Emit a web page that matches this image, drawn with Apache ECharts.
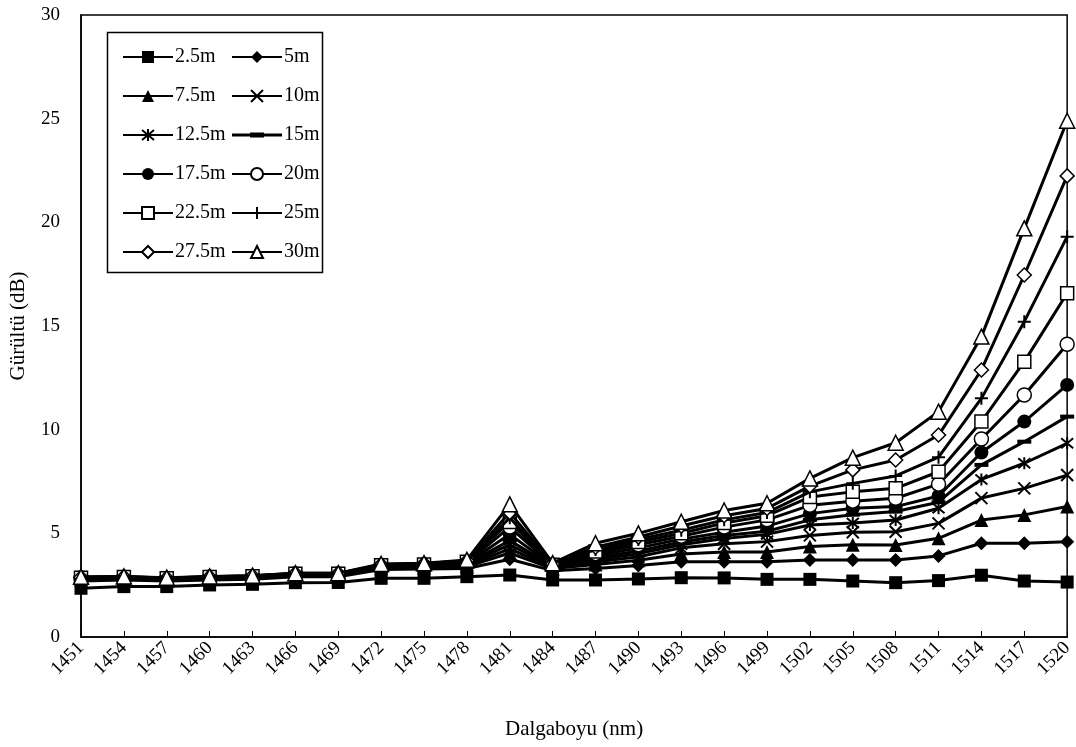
<!DOCTYPE html>
<html>
<head>
<meta charset="utf-8">
<script src="https://cdn.jsdelivr.net/npm/echarts@6/dist/echarts.min.js"></script>
<style>html,body{margin:0;padding:0;background:#fff;}#c{width:1076px;height:747px;}</style>
</head>
<body>
<div id="c"></div>
<script>
const categories = ['1451','1454','1457','1460','1463','1466','1469','1472','1475','1478','1481','1484','1487','1490','1493','1496','1499','1502','1505','1508','1511','1514','1517','1520'];
const yTicks = [0, 5, 10, 15, 20, 25, 30];

const s2_5  = [2.35,2.43,2.43,2.51,2.54,2.62,2.63,2.83,2.83,2.91,2.99,2.75,2.75,2.80,2.86,2.85,2.78,2.78,2.70,2.62,2.72,2.98,2.70,2.65];
const s5    = [2.70,2.75,2.70,2.75,2.78,2.90,2.90,3.25,3.28,3.30,3.75,3.20,3.30,3.45,3.63,3.63,3.63,3.71,3.71,3.71,3.91,4.52,4.52,4.60];
const s7_5  = [2.75,2.80,2.74,2.80,2.84,2.96,2.96,3.32,3.35,3.40,4.05,3.30,3.50,3.70,4.00,4.10,4.10,4.36,4.45,4.44,4.76,5.64,5.89,6.29];
const s10   = [2.78,2.82,2.76,2.82,2.86,2.98,2.98,3.36,3.38,3.45,4.25,3.35,3.62,3.87,4.30,4.50,4.60,4.90,5.05,5.08,5.48,6.70,7.17,7.81];
const s12_5 = [2.80,2.84,2.78,2.84,2.88,3.00,3.00,3.38,3.41,3.50,4.45,3.38,3.72,4.02,4.45,4.75,4.95,5.40,5.50,5.64,6.21,7.60,8.38,9.34];
const s15   = [2.82,2.86,2.80,2.86,2.90,3.02,3.02,3.40,3.44,3.54,4.65,3.41,3.82,4.15,4.58,4.90,5.10,5.65,5.90,6.05,6.50,8.30,9.42,10.63];
const s17_5 = [2.83,2.87,2.81,2.87,2.91,3.03,3.03,3.42,3.46,3.57,4.95,3.44,3.92,4.30,4.72,5.05,5.35,5.95,6.21,6.29,6.80,8.90,10.39,12.16];
const s20   = [2.85,2.88,2.82,2.88,2.92,3.04,3.04,3.44,3.48,3.60,5.30,3.46,4.02,4.45,4.86,5.30,5.65,6.35,6.55,6.69,7.37,9.55,11.67,14.12];
const s22_5 = [2.86,2.89,2.83,2.89,2.93,3.05,3.05,3.46,3.50,3.63,5.55,3.48,4.12,4.58,5.00,5.50,5.85,6.75,7.00,7.17,7.97,10.39,13.28,16.58];
const s25   = [2.87,2.90,2.84,2.90,2.94,3.06,3.06,3.48,3.52,3.65,5.75,3.50,4.22,4.70,5.15,5.65,6.00,7.00,7.41,7.77,8.67,11.51,15.21,19.31];
const s27_5 = [2.88,2.91,2.85,2.91,2.95,3.07,3.07,3.50,3.54,3.68,6.00,3.52,4.33,4.82,5.35,5.85,6.20,7.28,8.06,8.54,9.74,12.88,17.46,22.24];
const s30   = [2.90,2.92,2.86,2.92,2.96,3.08,3.08,3.52,3.56,3.72,6.40,3.56,4.52,5.00,5.56,6.10,6.45,7.65,8.65,9.37,10.87,14.49,19.71,24.90];

const seriesNames = ['2.5m','5m','7.5m','10m','12.5m','15m','17.5m','20m','22.5m','25m','27.5m','30m'];
const legendCol1 = ['2.5m','7.5m','12.5m','17.5m','22.5m','27.5m'];
const legendCol2 = ['5m','10m','15m','20m','25m','30m'];
const seriesData = [s2_5,s5,s7_5,s10,s12_5,s15,s17_5,s20,s22_5,s25,s27_5,s30];

const FONT = '"Liberation Serif", "Times New Roman", serif';
const X_PATH = 'path://M0,0L10,10M10,0L0,10';
const AST_PATH = 'path://M0,0L10,10M10,0L0,10M5,-1L5,11';
const PLUS_PATH = 'path://M5,0L5,10M0,5L10,5';
const DASH_LEGEND = 'path://M0,0L0.01,0M0,5.6L18,5.6L18,4.6L32,4.6L32,9.4L18,9.4L18,8.4L0,8.4ZM32,5.6L50,5.6L50,8.4L32,8.4ZM0,14L0.01,14';

const markerStyles = [
  {symbol:'rect', size:13, fill:'#000'},
  {symbol:'diamond', size:14, fill:'#000'},
  {symbol:'triangle', size:14, fill:'#000'},
  {symbol:X_PATH, size:12, fill:'#000', stroke:true},
  {symbol:AST_PATH, size:12, fill:'#000', stroke:true},
  {symbol:'rect', size:[14,4], fill:'#000'},
  {symbol:'circle', size:14, fill:'#000'},
  {symbol:'circle', size:14, fill:'#fff', border:true},
  {symbol:'rect', size:13, fill:'#fff', border:true},
  {symbol:PLUS_PATH, size:13, fill:'#000', stroke:true},
  {symbol:'diamond', size:14, fill:'#fff', border:true},
  {symbol:'triangle', size:15, fill:'#fff', border:true}
];

const series = seriesNames.map((name, i) => {
  const m = markerStyles[i];
  const itemStyle = {color: m.fill, opacity: 1};
  if (m.border) { itemStyle.borderColor = '#000'; itemStyle.borderWidth = 1.5; }
  if (m.stroke) { itemStyle.borderColor = '#000'; itemStyle.borderWidth = 2; }
  return {
    name: name,
    type: 'line',
    data: seriesData[i],
    symbol: m.symbol,
    symbolSize: m.size,
    showAllSymbol: true,
    lineStyle: {color: '#000', width: 3},
    itemStyle: itemStyle,
    z: 2 + i,
    animation: false
  };
});

function legendData(names) {
  return names.map(n => n === '15m' ? {name: n, icon: DASH_LEGEND} : n);
}

const legendCommon = {
  orient: 'vertical',
  itemWidth: 50, itemHeight: 15,
  itemGap: 19,
  textStyle: {fontFamily: FONT, fontSize: 20, color: '#000', padding: [0,0,0,-3]},
  selectedMode: false
};

const chart = echarts.init(document.getElementById('c'), null, {renderer: 'canvas'});
chart.setOption({
  backgroundColor: '#fff',
  animation: false,
  textStyle: {fontFamily: FONT, color: '#000'},
  grid: {left: 76, right: 3, top: 15, bottom: 110, show: true, borderColor: '#000', borderWidth: 1.5, backgroundColor: 'transparent'},
  legend: [
    Object.assign({data: legendData(legendCol1), left: 117, top: 42}, legendCommon),
    Object.assign({data: legendData(legendCol2), left: 226, top: 42}, legendCommon)
  ],
  graphic: [{
    type: 'rect', left: 105, top: 30, shape: {width: 215, height: 240},
    style: {fill: 'none', stroke: '#000', lineWidth: 1.5}, z: 100, silent: true
  }],
  xAxis: {
    type: 'category', data: categories, boundaryGap: false,
    name: 'Dalgaboyu (nm)', nameLocation: 'middle', nameGap: 82,
    nameTextStyle: {fontFamily: FONT, fontSize: 21, color: '#000'},
    axisLine: {lineStyle: {color: '#000', width: 1.5}},
    axisTick: {inside: true, length: 6, lineStyle: {color: '#000', width: 1}},
    axisLabel: {rotate: 45, interval: 0, fontFamily: FONT, fontSize: 19, color: '#000', margin: 8},
    splitLine: {show: false}
  },
  yAxis: {
    type: 'value', min: yTicks[0], max: yTicks[yTicks.length-1], interval: 5,
    name: 'Gürültü (dB)', nameLocation: 'middle', nameGap: 52,
    nameTextStyle: {fontFamily: FONT, fontSize: 21, color: '#000'},
    axisLine: {show: true, lineStyle: {color: '#000', width: 1.5}},
    axisTick: {show: false},
    axisLabel: {fontFamily: FONT, fontSize: 19, color: '#000', margin: 21},
    splitLine: {show: false}
  },
  series: series
});
</script>
</body>
</html>
